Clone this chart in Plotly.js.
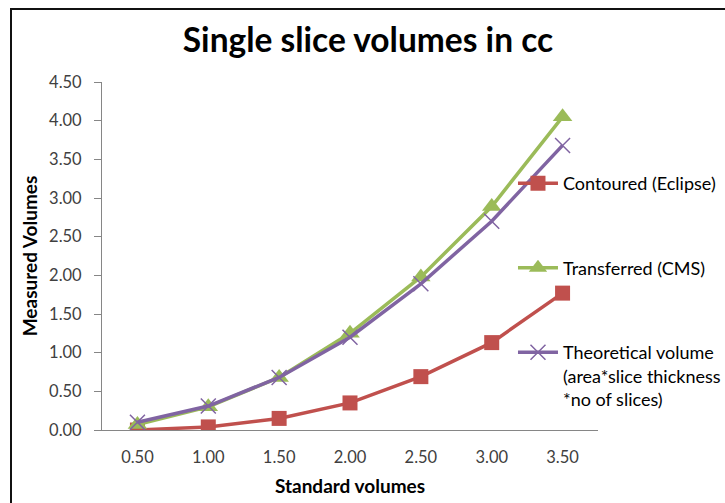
<!DOCTYPE html>
<html>
<head>
<meta charset="utf-8">
<script src="https://cdn.plot.ly/plotly-3.0.1.min.js"></script>
<style>
  html, body { margin: 0; padding: 0; background: #fff; overflow: hidden; }
  #wrap { position: relative; width: 725px; height: 503px; overflow: hidden; }
  #chart { position: absolute; left: 0; top: 0; width: 780px; height: 503px; }
  #frame { position: absolute; left: 10px; top: 8px; width: 740px; height: 520px;
           border-left: 2px solid #111; border-top: 2px solid #111; pointer-events: none; }
</style>
</head>
<body>
<div id="wrap">
  <div id="chart"></div>
  <div id="frame"></div>
</div>
<script>
// Standard volumes (category axis)
const standardVolumes = ["0.50", "1.00", "1.50", "2.00", "2.50", "3.00", "3.50"];

// Measured volumes per method
const contouredEclipse = [0.00, 0.04, 0.15, 0.35, 0.69, 1.13, 1.77];
const transferredCMS   = [0.07, 0.30, 0.68, 1.25, 1.98, 2.89, 4.05];
const theoretical      = [0.10, 0.31, 0.68, 1.20, 1.89, 2.70, 3.68];

const yTicks = [0, 0.5, 1, 1.5, 2, 2.5, 3, 3.5, 4, 4.5];
const yTickText = ["0.00", "0.50", "1.00", "1.50", "2.00", "2.50", "3.00", "3.50", "4.00", "4.50"];

const FONT = "Lato, 'Open Sans', sans-serif";

const traces = [
  {
    x: standardVolumes, y: contouredEclipse, name: "Contoured (Eclipse)",
    type: "scatter", mode: "lines+markers", legendgroup: "a",
    line: { color: "#C0504D", width: 3.5 },
    marker: { symbol: "square", size: 15, color: "#C0504D" }
  },
  {
    x: standardVolumes, y: transferredCMS, name: "Transferred (CMS)",
    type: "scatter", mode: "lines+markers", legendgroup: "b",
    line: { color: "#9BBB59", width: 3.5 },
    marker: { symbol: "triangle-up", size: 17, color: "#9BBB59" }
  },
  {
    x: standardVolumes, y: theoretical,
    name: "Theoretical volume<br>(area*slice thickness<br>*no of slices)",
    type: "scatter", mode: "lines+markers", legendgroup: "c",
    line: { color: "#8064A2", width: 3.5 },
    marker: { symbol: "x-thin", size: 15, color: "#8064A2", line: { color: "#8064A2", width: 1.5 } }
  }
];

// The figure runs a little past the visible frame so the long legend
// label can be cut off at the right edge without squeezing the plot.
const FIG_W = 780;

const layout = {
  width: FIG_W, height: 503,
  margin: { l: 102, r: FIG_W - 598, t: 82, b: 73 },
  paper_bgcolor: "#fff", plot_bgcolor: "#fff",
  font: { family: FONT, color: "#404040", size: 16 },
  title: {
    text: "<b>Single slice volumes in cc</b>",
    font: { family: FONT, size: 33.5, color: "#000" },
    xref: "container", x: 368 / FIG_W, xanchor: "center", y: 0.92, yanchor: "middle"
  },
  xaxis: {
    type: "category", range: [-0.5, 6.5],
    showline: true, linecolor: "#868686", linewidth: 1,
    showgrid: false, zeroline: false, ticks: "",
    ticklabelstandoff: 12,
    tickfont: { family: FONT, size: 16.5, color: "#404040" },
    title: { text: "<b>Standard volumes</b>", font: { family: FONT, size: 19, color: "#000" }, standoff: 13 }
  },
  yaxis: {
    range: [0, 4.5], tickvals: yTicks, ticktext: yTickText,
    showline: true, linecolor: "#868686", linewidth: 1,
    showgrid: false, zeroline: false,
    ticks: "outside", ticklen: 7, tickcolor: "#868686",
    ticklabelstandoff: 9,
    tickfont: { family: FONT, size: 16.5, color: "#404040" },
    title: { text: "<b>Measured Volumes</b>", font: { family: FONT, size: 19, color: "#000" }, standoff: 6 }
  },
  showlegend: true,
  legend: {
    x: 0.8286, xanchor: "left", y: 0.761, yanchor: "top",
    bgcolor: "rgba(0,0,0,0)", borderwidth: 0,
    font: { family: FONT, size: 18, color: "#000" },
    traceorder: "grouped", tracegroupgap: 58, valign: "top",
    itemwidth: 40
  }
};

Plotly.newPlot("chart", traces, layout, { displayModeBar: false, staticPlot: true });
</script>
</body>
</html>
